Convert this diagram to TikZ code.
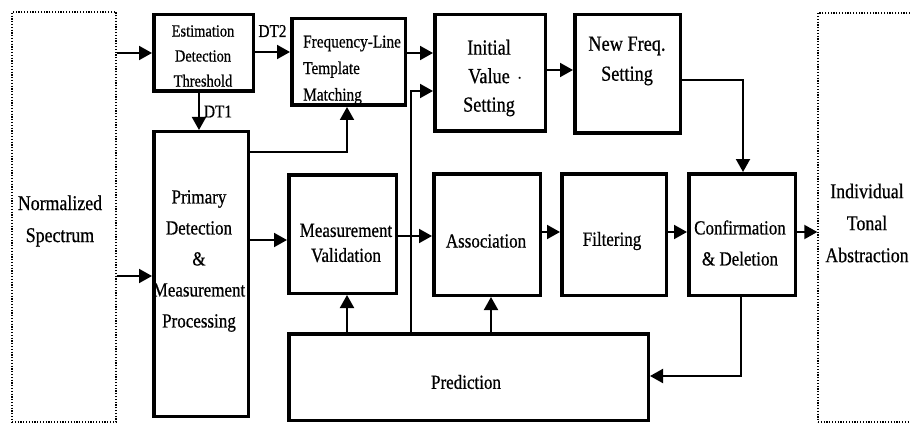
\documentclass[tikz,border=0pt]{standalone}
\usepackage{fontspec}
\setmainfont{Liberation Serif}[FakeStretch=0.85, FakeBold=0.6]
\usetikzlibrary{arrows.meta}

\tikzset{
  box/.style={draw, line width=3.5pt, inner sep=0pt, minimum width=#1},
  dotbox/.style={draw, line width=1.4pt, dash pattern=on 1.2pt off 1.6pt, inner sep=0pt, minimum width=#1},
  conn/.style={line width=2pt, -{Triangle[length=13pt,width=14pt]}},
  plain/.style={line width=2pt},
  txt/.style={inner sep=0pt, align=center, font=\fontsize{20}{25}\selectfont},
}

\begin{document}
\begin{tikzpicture}[x=1pt, y=-1pt]
\useasboundingbox (0,0) rectangle (910,425);

% outer input / output panels
\node[dotbox=104pt, minimum height=410pt] (norm) at (64,217) {};
\node[dotbox=102pt, minimum height=409pt] (ind) at (869,217.5) {};

% processing blocks
\node[box=99.5pt,  minimum height=76.5pt]  (est)   at (203.5,53) {};
\node[box=94.5pt,  minimum height=284.5pt] (prim)  at (201,274) {};
\node[box=113.5pt, minimum height=86.5pt]  (freq)  at (348.5,62) {};
\node[box=110.5pt, minimum height=116.5pt] (init)  at (490,73) {};
\node[box=105.5pt, minimum height=118.5pt] (newf)  at (627.5,74) {};
\node[box=107.5pt, minimum height=118.5pt] (meas)  at (342.5,234) {};
\node[box=106.5pt, minimum height=121.5pt] (assoc) at (487,234.5) {};
\node[box=104.5pt, minimum height=121.5pt] (filt)  at (614,234.5) {};
\node[box=106.5pt, minimum height=121.5pt] (conf)  at (742,234.5) {};
\node[box=359.5pt, minimum height=86.5pt]  (pred)  at (468.5,377) {};

% block texts
\node[txt, font=\fontsize{21}{32}\selectfont] (norm-t) at (60,221) {Normalized\\Spectrum};
\node[txt, font=\fontsize{21}{32}\selectfont] (ind-t) at (867,223) {Individual\\Tonal\\Abstraction};
\node[txt, font=\fontsize{17}{25}\selectfont] (est-t) at (203,56) {Estimation\\Detection\\Threshold};
\node[txt, font=\fontsize{20}{31}\selectfont] (prim-t) at (199,261) {Primary\\Detection\\\&\\Measurement\\Processing};
\node[txt, align=left, anchor=west, font=\fontsize{18}{26.5}\selectfont] (freq-t) at (303,70) {Frequency-Line\\Template\\Matching};
\node[txt, font=\fontsize{21.5}{28.5}\selectfont] (init-t) at (489,78) {Initial\\Value\rlap{\,\,$\cdot$}\\Setting};
\node[txt, font=\fontsize{21.5}{30}\selectfont] (newf-t) at (627,61) {New Freq.\\Setting};
\node[txt] (meas-t) at (346,243) {Measurement\\Validation};
\node[txt] (assoc-t) at (486,241) {Association};
\node[txt] (filt-t) at (612,241) {Filtering};
\node[txt, font=\fontsize{20}{31}\selectfont] (conf-t) at (740,243) {Confirmation\\\& Deletion};
\node[txt] (pred-t) at (466,382) {Prediction};

% connector levels
\coordinate (r1) at (0,53);
\coordinate (r2) at (0,70);
\coordinate (pf) at (347,152);
\coordinate (nc) at (743,80);
\coordinate (pv) at (411,91);
\coordinate (m1) at (0,240);
\coordinate (m2) at (0,236);
\coordinate (m3) at (0,232);
\coordinate (cp) at (741,376);

% connectors
\draw[conn] (norm.east |- r1) -- (est.west |- r1);
\draw[conn] (norm.east |- 0,276) -- (prim.west |- 0,276);
\draw[conn] (est.south -| 199,0) -- (prim.north -| 199,0)
  node[midway, right=4pt, inner sep=0pt, font=\fontsize{18}{20}\selectfont] (dt1) {DT1};
\draw[conn] (est.east |- 0,52) -- (freq.west |- 0,52)
  node[midway, above=14pt, inner sep=0pt, font=\fontsize{18}{20}\selectfont] (dt2) {DT2};
\draw[conn] (prim.east |- pf) -- (pf) -- (pf |- freq.south);
\draw[conn] (freq.east |- r1) -- (init.west |- r1);
\draw[conn] (pv |- pred.north) -- (pv) -- (init.west |- pv);
\draw[conn] (init.east |- r2) -- (newf.west |- r2);
\draw[conn] (newf.east |- nc) -- (nc) -- (nc |- conf.north);
\draw[conn] (prim.east |- m1) -- (meas.west |- m1);
\draw[conn] (meas.east |- m2) -- (assoc.west |- m2);
\draw[conn] (assoc.east |- m3) -- (filt.west |- m3);
\draw[conn] (filt.east |- m3) -- (conf.west |- m3);
\draw[conn] (conf.east |- m3) -- (ind.west |- m3);
\draw[conn] (pred.north -| 347,0) -- (meas.south -| 347,0);
\draw[conn] (pred.north -| 491,0) -- (assoc.south -| 491,0);
\draw[conn] (conf.south -| cp) -- (cp) -- (pred.east |- cp);
\end{tikzpicture}
\end{document}
